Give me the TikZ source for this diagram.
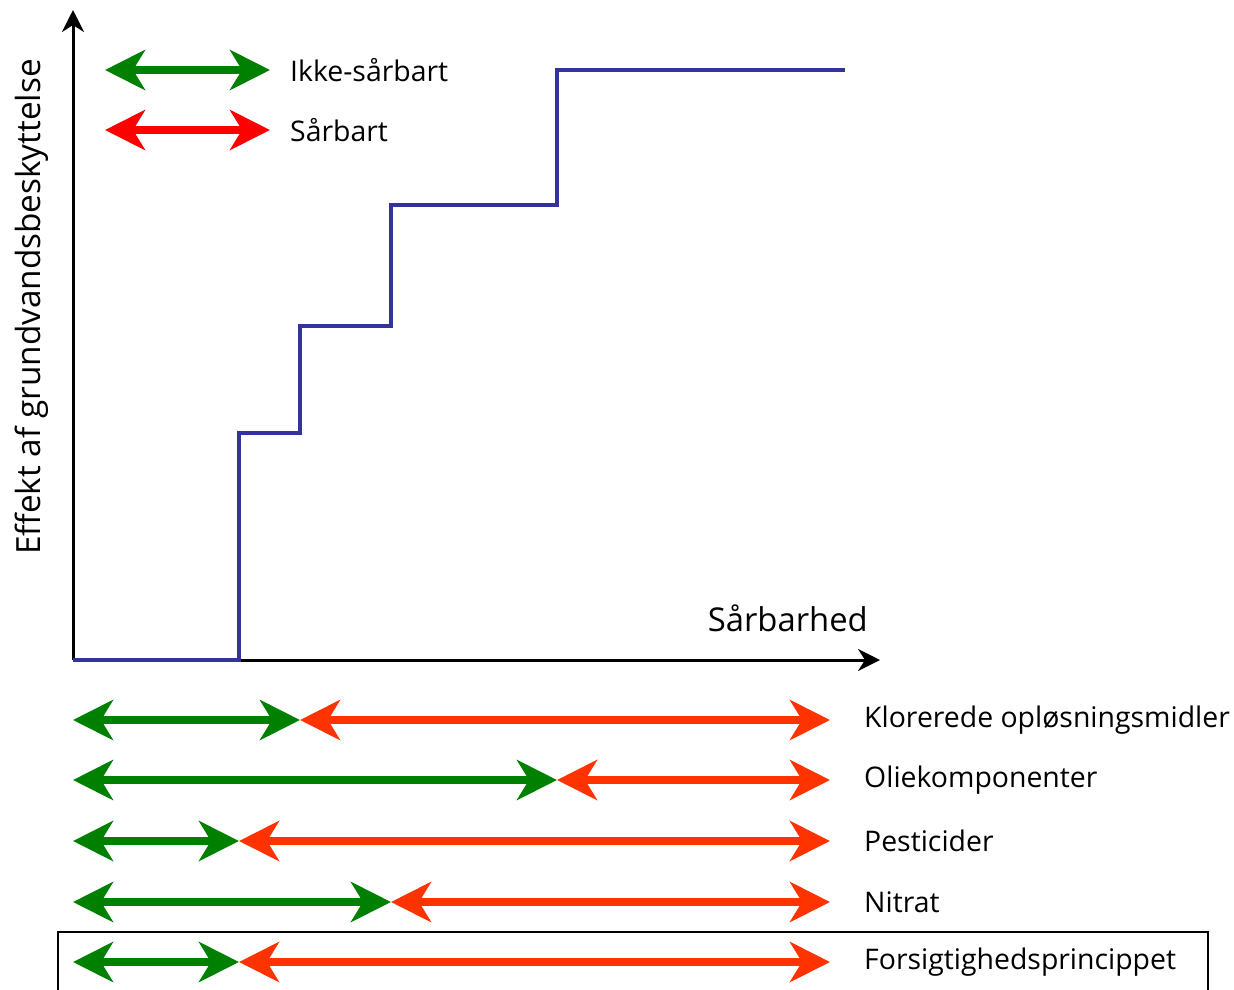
\documentclass[tikz,border=0pt]{standalone}
\usepackage{fontspec}
\setmainfont{Open Sans}
\usetikzlibrary{arrows.meta}

\definecolor{stepblue}{RGB}{51,51,153}
\definecolor{okgreen}{RGB}{0,128,0}
\definecolor{legendred}{RGB}{255,0,0}
\definecolor{rowred}{RGB}{255,51,0}

\tikzset{
  axisline/.style={line width=3pt, -{Stealth[length=22pt, width=22pt, inset=7pt]}},
  spanarrow/.style={line width=8pt, {Stealth[length=40pt, width=40pt, inset=12pt]}-{Stealth[length=40pt, width=40pt, inset=12pt]}},
  stoflabel/.style={anchor=west, inner sep=0pt, font=\fontsize{28.4}{30}\selectfont},
}

\begin{document}
\begin{tikzpicture}[x=1pt, y=-1pt]
                        \useasboundingbox (0,0) rectangle (1234,989);

                        % axes
                        \coordinate (O) at (73,660);
                        \draw[axisline] (O) to (73,10);
                        \draw[axisline] (O) to (880,660);
                        \node[font=\fontsize{32.8}{34}\selectfont, anchor=south east, inner sep=0pt] (xlab) at (868,632) {Sårbarhed};
                        \node[font=\fontsize{33.3}{35}\selectfont, rotate=90, inner sep=0pt] (ylab) at (32,307) {Effekt af grundvandsbeskyttelse};

                        % step curve
                        \draw[stepblue, line width=3.5pt] (O) -- (239,660) -- (239,433) -- (300,433) -- (300,326)
                              -- (391,326) -- (391,205) -- (557,205) -- (557,70) -- (845,70);

                        % legend
                        \draw[spanarrow, okgreen] (105,70) to (270,70);
                        \node[stoflabel] (ikke) at (290,70) {Ikke-sårbart};
                        \draw[spanarrow, legendred] (105,130) to (270,130);
                        \node[stoflabel] (saarbart) at (290,130) {Sårbart};

                        % stoffer
                        \foreach \y/\xb/\name in {720/300/Klorerede opløsningsmidler, 780/557/Oliekomponenter,
                                                   841/239/Pesticider, 902/391/Nitrat, 962/239/Forsigtighedsprincippet} {
                            \coordinate (a) at (73,\y);
                            \coordinate (b) at (\xb,\y);
                            \coordinate (c) at (830,\y);
                            \draw[spanarrow, okgreen] (a) to (b);
                            \draw[spanarrow, rowred] (b) to (c);
                            \node[stoflabel] at (864,\y) {\name};
                        }

                        \draw[line width=1.5pt] (58,995) -- (58,932) -- (1208,932) -- (1208,995);
                    \end{tikzpicture}
\end{document}
